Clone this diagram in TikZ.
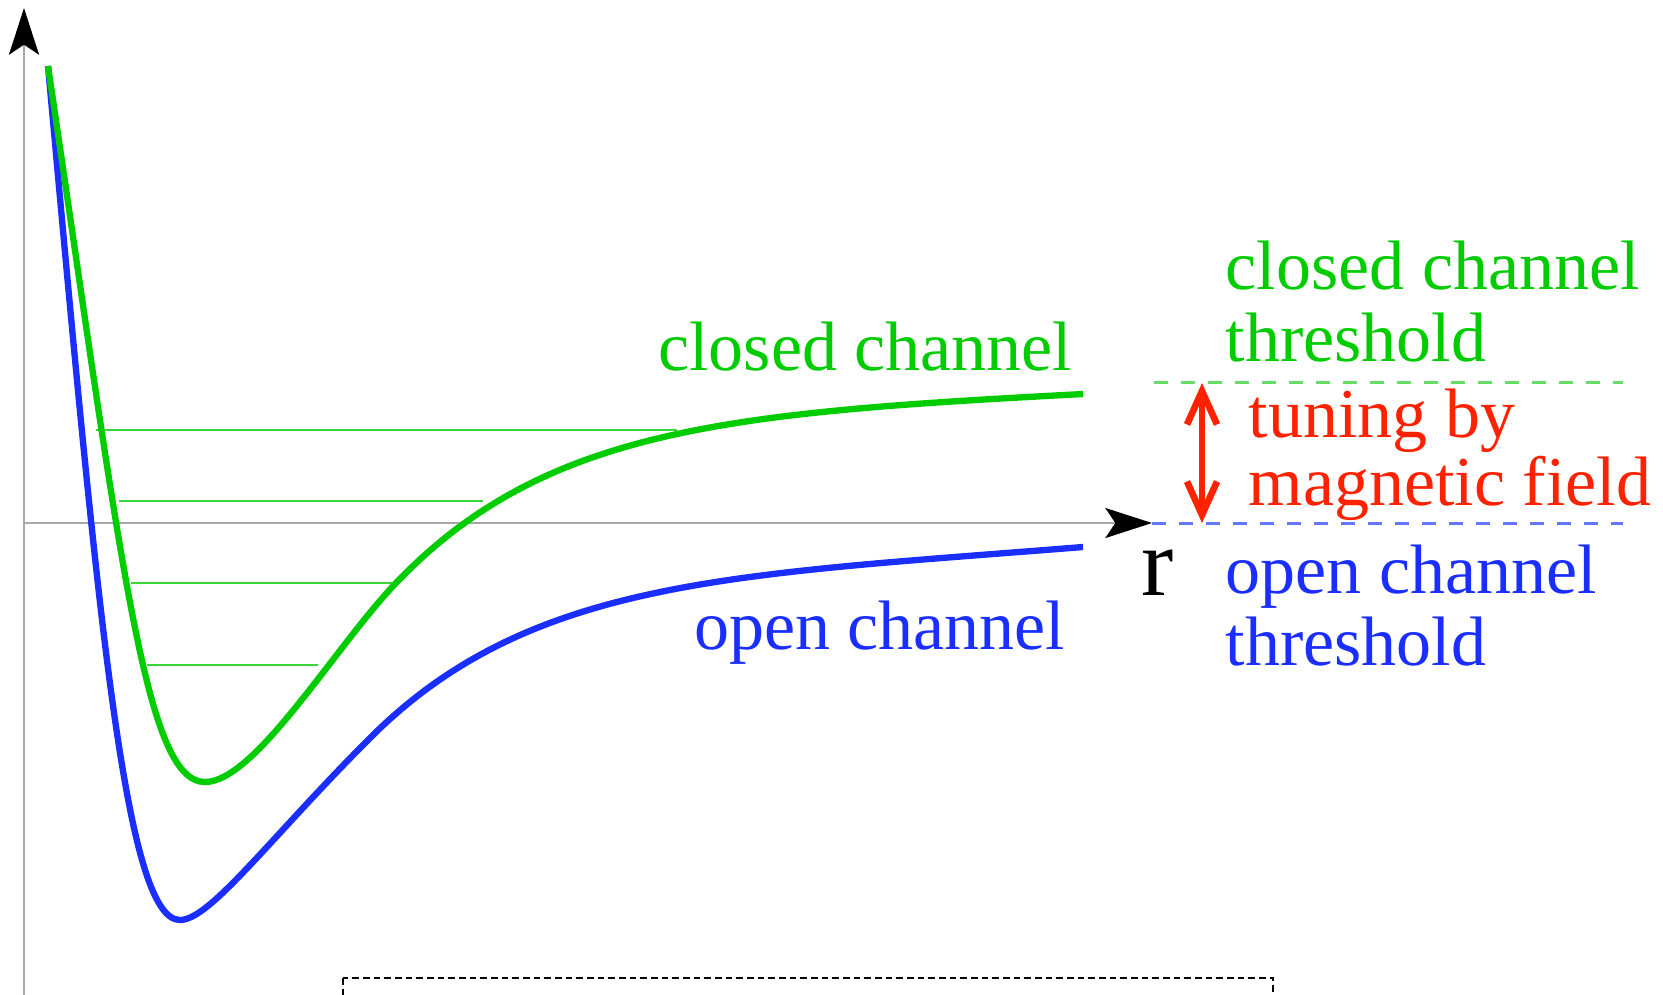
\documentclass[tikz,border=0pt]{standalone}
\usepackage{fontspec}
\setmainfont{Liberation Serif}
\usetikzlibrary{arrows.meta}
\definecolor{closedCol}{HTML}{00CC00}
\definecolor{levelCol}{HTML}{3AD63A}
\definecolor{closedDash}{HTML}{66DD66}
\definecolor{openCol}{HTML}{1A2EFF}
\definecolor{openDash}{HTML}{6677FF}
\definecolor{tuneCol}{HTML}{FF2200}
\definecolor{axisCol}{HTML}{A8A8A8}
\tikzset{
  lbl/.style   ={inner sep=0pt, font=\fontsize{21}{21.6}\selectfont},
  axis/.style  ={draw=axisCol, line width=0.8pt, -{Stealth[length=14pt, width=9pt, inset=3pt, color=black]}},
  pot/.style   ={line width=1.9pt},
  level/.style ={draw=levelCol, line width=0.65pt},
  thr/.style   ={line width=0.9pt, dash pattern=on 4.2pt off 3.9pt},
  tune/.style  ={draw=tuneCol, line width=2pt, {Straight Barb[length=10pt, width=9pt]}-{Straight Barb[length=10pt, width=9pt]}},
  frame/.style ={draw=black, line width=0.4pt, dash pattern=on 2pt off 1.2pt},
}

\begin{document}
\begin{tikzpicture}[x=0.3pt, y=-0.3pt]
  \useasboundingbox (0,0) rectangle (1663,994);

  % axes
  \coordinate (yb) at (24,1000);
  \coordinate (yt) at (24,8);
  \coordinate (O)  at (24,523);
  \coordinate (xt) at (1152,523);
  \draw[axis] (yb) -- (yt);
  \draw[axis] (O) -- (xt);

  % bound states of the closed channel
  \draw[level] (96,430)  -- (677,430);
  \draw[level] (119,501) -- (483,501);
  \draw[level] (131,583) -- (398,583);
  \draw[level] (147,665) -- (318,665);

  % potentials
  \draw[pot, openCol] (48,66) .. controls (98,616) and (125,920) .. (180,920)
    .. controls (210,920) and (270,838) .. (370,738)
    .. controls (530,578) and (733,575) .. (1083,547);
  \draw[pot, closedCol] (48,66) .. controls (122,566) and (145,782) .. (205,782)
    .. controls (255,782) and (335,647) .. (395,584)
    .. controls (545,426.5) and (733,412.6) .. (1083,394);

  % thresholds
  \coordinate (cth) at (1154,382);
  \coordinate (cthe) at (1623,382);
  \coordinate (othe) at (1623,523);
  \draw[thr, closedDash] (cth) -- (cthe);
  \draw[thr, openDash] (xt) -- (othe);

  \coordinate (tuneTop) at (1202,383);
  \coordinate (tuneBot) at (1202,523);
  \draw[tune] (tuneTop) -- (tuneBot);

  % labels
  \node[lbl, text=closedCol, anchor=base east] (closedLbl) at (1073,370) {closed channel};
  \node[lbl, text=openCol, anchor=base east] (openLbl) at (1066,649) {open channel};
  \node[lbl, text=closedCol, anchor=base west, align=left] (closedThr) at (1225,361) {closed channel\\threshold};
  \node[lbl, text=tuneCol, anchor=base west, align=left, font=\fontsize{21}{18.6}\selectfont] (tuneLbl) at (1248,505) {tuning by\\magnetic field};
  \node[lbl, text=openCol, anchor=base west, align=left] (openThr) at (1225,665) {open channel\\threshold};
  \node[inner sep=0pt, font=\fontsize{29}{30}\selectfont, anchor=base] (rLbl) at (1158,595) {r};

  % box below (cut by the page edge)
  \draw[frame] (343,978) rectangle (1273,1080);
\end{tikzpicture}
\end{document}
